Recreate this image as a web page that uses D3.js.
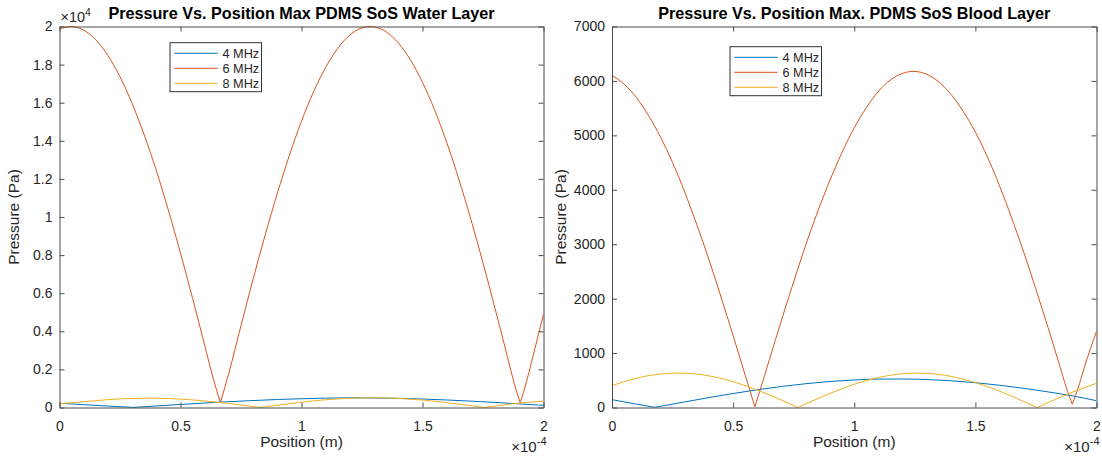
<!DOCTYPE html>
<html>
<head>
<meta charset="utf-8">
<script src="https://cdn.jsdelivr.net/npm/d3@7"></script>
<style>
body { margin: 0; background: #fff; }
text { font-family: "Liberation Sans", Arial, Helvetica, sans-serif; fill: #262626; }
</style>
</head>
<body>
<svg id="chart" width="1102" height="459"></svg>
<script>
// positions are in units of 1e-4 m (axis shows x10^-4), pressures in Pa
var seriesNames = ["4 MHz", "6 MHz", "8 MHz"];

// Water layer
var waterPos4 = [0, 0.1, 0.2, 0.305, 0.4, 0.5, 0.6, 0.7, 0.8, 0.9, 1.0, 1.1, 1.2, 1.3, 1.4, 1.5, 1.6, 1.7, 1.8, 1.9, 2.0];
var waterP4 = [220, 150, 75, 5, 80, 160, 235, 305, 365, 420, 460, 490, 505, 500, 480, 445, 395, 335, 265, 190, 110];

var waterPos6 = [0, 0.05, 0.1, 0.15, 0.2, 0.25, 0.3, 0.35, 0.4, 0.45, 0.5, 0.55, 0.6, 0.63, 0.665, 0.7, 0.75, 0.8, 0.85, 0.9, 0.95,
    1.0, 1.05, 1.1, 1.15, 1.2, 1.25, 1.285, 1.3, 1.35, 1.4, 1.45, 1.5, 1.55, 1.6, 1.65, 1.7, 1.75, 1.8, 1.85, 1.88, 1.904, 1.93, 1.95, 2.0];
var waterP6 = [19870, 20000, 19810, 19300, 18480, 17360, 15960, 14310, 12440, 10350, 8100, 5730, 3260, 1770, 250, 1820, 4300, 6740, 9060, 11240, 13240,
    15030, 16580, 17860, 18860, 19550, 19930, 20000, 19980, 19720, 19140, 18250, 17070, 15620, 13920, 11990, 9870, 7590, 5190, 2710, 1220, 250, 1360, 2360, 4900];

var waterPos8 = [0, 0.1, 0.2, 0.3, 0.366, 0.4, 0.5, 0.6, 0.7, 0.8, 0.829, 0.9, 1.0, 1.1, 1.2, 1.292, 1.3, 1.4, 1.5, 1.6, 1.7, 1.755, 1.8, 1.9, 2.0];
var waterP8 = [200, 304, 414, 478, 490, 487, 441, 344, 208, 48, 0, 122, 280, 406, 485, 510, 510, 476, 388, 256, 95, 0, 75, 231, 330];

// Blood layer
var bloodPos4 = [0, 0.1, 0.176, 0.3, 0.4, 0.5, 0.6, 0.7, 0.8, 0.9, 1.0, 1.1, 1.2, 1.3, 1.4, 1.5, 1.6, 1.7, 1.8, 1.9, 2.0];
var bloodP4 = [144, 63, 3, 102, 182, 257, 326, 386, 437, 478, 506, 522, 524, 514, 491, 456, 409, 352, 287, 214, 125];

var bloodPos6 = [0, 0.05, 0.1, 0.15, 0.2, 0.25, 0.3, 0.35, 0.4, 0.45, 0.5, 0.55, 0.59, 0.63, 0.65, 0.7, 0.75, 0.8, 0.85, 0.9, 0.95,
    1.0, 1.05, 1.1, 1.15, 1.2, 1.245, 1.3, 1.35, 1.4, 1.45, 1.5, 1.55, 1.6, 1.65, 1.7, 1.75, 1.8, 1.85, 1.875, 1.9, 1.93, 1.95, 2.0];
var bloodP6 = [6100, 5940, 5700, 5370, 4970, 4500, 3960, 3360, 2720, 2030, 1320, 590, 15, 590, 885, 1610, 2310, 2990, 3610, 4180, 4690,
    5140, 5510, 5810, 6020, 6140, 6175, 6120, 5980, 5750, 5440, 5060, 4600, 4070, 3480, 2850, 2170, 1470, 740, 370, 60, 440, 740, 1400];

var bloodPos8 = [0, 0.1, 0.2, 0.273, 0.3, 0.4, 0.5, 0.6, 0.7, 0.767, 0.8, 0.9, 1.0, 1.1, 1.2, 1.261, 1.3, 1.4, 1.5, 1.6, 1.7, 1.755, 1.8, 1.9, 2.0];
var bloodP8 = [400, 539, 615, 632, 630, 581, 475, 320, 134, 0, 66, 259, 427, 551, 620, 632, 627, 571, 458, 299, 110, 0, 90, 281, 444];

var xTicks = [0, 0.5, 1, 1.5, 2];
var waterYTicks = [0, 2000, 4000, 6000, 8000, 10000, 12000, 14000, 16000, 18000, 20000];
var bloodYTicks = [0, 1000, 2000, 3000, 4000, 5000, 6000, 7000];

var colors = ["#0072BD", "#D95319", "#EDB120"];
var svg = d3.select("#chart");

function zip(xs, ys)
{
    return xs.map(function(x, i) { return [x, ys[i]]; });
}

// break a series at its dips so the smoothed arcs keep sharp V tips
function splitAtDips(pts)
{
    var arcs = [], cur = [pts[0]];
    for(var i = 1; i < pts.length; i++)
    {
        cur.push(pts[i]);
        if(i < pts.length - 1 && pts[i][1] < pts[i - 1][1] && pts[i][1] < pts[i + 1][1])
        {
            arcs.push(cur);
            cur = [pts[i]];
        }
    }
    arcs.push(cur);
    return arcs;
}

function drawPanel(p)
{
    var x = d3.scaleLinear().domain([0, 2]).range([p.left, p.right]);
    var y = d3.scaleLinear().domain(p.yDomain).range([407.5, 26.5]);
    var g = svg.append("g");

    var line = d3.line()
        .curve(d3.curveMonotoneX)
        .x(function(d) { return x(d[0]); })
        .y(function(d) { return y(d[1]); });

    // clip so lines stay inside the box
    var clipId = "clip" + p.id;
    svg.append("clipPath").attr("id", clipId).append("rect")
        .attr("x", p.left).attr("y", 26).attr("width", p.right - p.left).attr("height", 382);

    g.append("g").attr("clip-path", "url(#" + clipId + ")")
        .selectAll("path")
        .data(p.series)
        .enter().append("path")
        .attr("d", function(d) { return splitAtDips(d).map(function(a) { return line(a); }).join(""); })
        .attr("fill", "none")
        .attr("stroke", function(d, i) { return colors[i]; })
        .attr("stroke-width", 1)
        .attr("stroke-linejoin", "round");

    var axisColor = "#4d4d4d";

    var bottom = g.append("g").attr("transform", "translate(0,407.5)")
        .call(d3.axisBottom(x).tickValues(xTicks).tickSizeInner(-5).tickSizeOuter(0).tickPadding(14)
            .tickFormat(function(d) { return d3.format("")(d); }));
    var top = g.append("g").attr("transform", "translate(0,26.5)")
        .call(d3.axisTop(x).tickValues(xTicks).tickSizeInner(-5).tickSizeOuter(0).tickFormat(""));
    var left = g.append("g").attr("transform", "translate(" + p.left + ",0)")
        .call(d3.axisLeft(y).tickValues(p.yTicks).tickSizeInner(-5).tickSizeOuter(0).tickPadding(7)
            .tickFormat(p.yFormat));
    var right = g.append("g").attr("transform", "translate(" + p.right + ",0)")
        .call(d3.axisRight(y).tickValues(p.yTicks).tickSizeInner(-5).tickSizeOuter(0).tickFormat(""));

    [bottom, top, left, right].forEach(function(a)
    {
        a.selectAll(".domain").attr("stroke", axisColor);
        a.selectAll(".tick line").attr("stroke", axisColor);
        a.selectAll("text").attr("font-size", 14).attr("fill", "#262626")
            .style("font-family", '"Liberation Sans", Arial, sans-serif');
    });

    g.append("text")
        .attr("x", (p.left + p.right) / 2).attr("y", 18.5)
        .attr("text-anchor", "middle")
        .attr("font-size", 16.2).attr("font-weight", "bold").style("fill", "#000")
        .text(p.title);

    g.append("text")
        .attr("x", (p.left + p.right) / 2).attr("y", 447)
        .attr("text-anchor", "middle").attr("font-size", 15.5)
        .text("Position (m)");

    g.append("text")
        .attr("transform", "translate(" + (p.left - p.yLabelOffset) + ",217) rotate(-90)")
        .attr("text-anchor", "middle").attr("font-size", 15.5)
        .text("Pressure (Pa)");

    // x10^-4 multiplier under the x axis
    var xm = g.append("text").attr("x", p.right + 3).attr("y", 452)
        .attr("text-anchor", "end").attr("font-size", 15);
    xm.append("tspan").text("\u00d710");
    xm.append("tspan").attr("dy", -7).attr("font-size", 11).text("-4");

    if(p.yExp)
    {
        var ym = g.append("text").attr("x", p.left + 1).attr("y", 22).attr("font-size", 14.5);
        ym.append("tspan").text("\u00d710");
        ym.append("tspan").attr("dy", -6).attr("font-size", 10.5).text(p.yExp);
    }

    // legend
    var lg = g.append("g").attr("transform", "translate(" + p.legend[0] + "," + p.legend[1] + ")");
    lg.append("rect").attr("width", 91.5).attr("height", 49)
        .attr("fill", "#fff").attr("stroke", "#333").attr("stroke-width", 1);
    seriesNames.forEach(function(name, i)
    {
        var yy = 10.6 + i * 15;
        lg.append("line").attr("x1", 4.3).attr("x2", 47.7).attr("y1", yy).attr("y2", yy)
            .attr("stroke", colors[i]).attr("stroke-width", 1);
        lg.append("text").attr("x", 52.5).attr("y", yy + 4.5).attr("font-size", 12.7).text(name);
    });
}

drawPanel({
    id: "water",
    left: 59.5, right: 543.5,
    yDomain: [0, 20000],
    yTicks: waterYTicks,
    yFormat: function(d) { return d3.format("")(d / 10000); },
    yExp: "4",
    yLabelOffset: 41,
    title: "Pressure Vs. Position Max PDMS SoS Water Layer",
    legend: [170, 42.7],
    series: [zip(waterPos4, waterP4), zip(waterPos6, waterP6), zip(waterPos8, waterP8)]
});

drawPanel({
    id: "blood",
    left: 612, right: 1096.5,
    yDomain: [0, 7000],
    yTicks: bloodYTicks,
    yFormat: function(d) { return d; },
    yExp: null,
    yLabelOffset: 46,
    title: "Pressure Vs. Position Max. PDMS SoS Blood Layer",
    legend: [730, 46.7],
    series: [zip(bloodPos4, bloodP4), zip(bloodPos6, bloodP6), zip(bloodPos8, bloodP8)]
});
</script>
</body>
</html>
